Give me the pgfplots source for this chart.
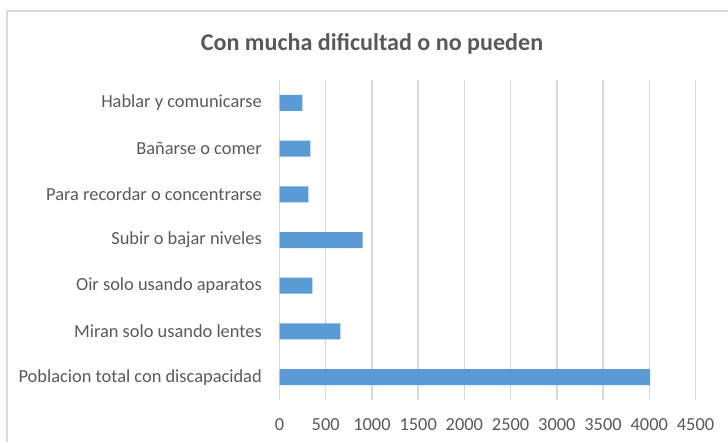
\documentclass[border=0pt]{standalone}
\usepackage{pgfplots}
\pgfplotsset{compat=1.18}
\usepackage{fontspec}
\setmainfont{Carlito}
\definecolor{barc}{HTML}{5B9BD5}
\definecolor{gridc}{HTML}{D9D9D9}
\definecolor{txt}{HTML}{595959}
\begin{document}
\begin{tikzpicture}[x=1pt,y=1pt]
\useasboundingbox (0,0) rectangle (728,442);
\draw[gridc, line width=1.5pt] (7,0) -- (7,431) -- (728,431);
\node[txt, font=\fontsize{24.1}{28}\selectfont\bfseries] at (372,398) {Con mucha dificultad o no pueden};
\begin{axis}[at={(279.5pt,42pt)}, anchor=south west, scale only axis,
  width=416pt, height=320pt,
  xbar, bar width=16pt,
  xmin=0, xmax=4500, xtick={0,500,...,4500},
  ymin=-0.5, ymax=6.5, ytick={0,...,6},
  yticklabels={Poblacion total con discapacidad, Miran solo usando lentes, Oir solo usando aparatos, Subir o bajar niveles, Para recordar o concentrarse, Bañarse o comer, Hablar y comunicarse},
  xmajorgrids, grid style={gridc, line width=1.4pt},
  axis line style={draw=none}, major tick length=0pt,
  ticklabel style={txt, font=\fontsize{18.4}{22}\selectfont, inner sep=0pt},
  /pgf/number format/assume math mode=true,
  /pgf/number format/set thousands separator={},
  xticklabel style={anchor=north},
  yticklabel style={anchor=east},
  xticklabel shift=18pt,
  yticklabel shift=17.5pt,
]
\addplot[fill=barc, draw=none] coordinates {(4010,0) (658,1) (355,2) (900,3) (312,4) (333,5) (247,6)};
\end{axis}
\end{tikzpicture}
\end{document}
